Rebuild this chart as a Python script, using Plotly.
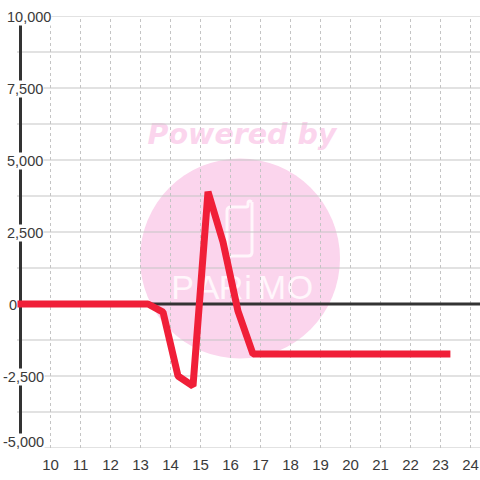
import plotly.graph_objects as go

# Data
x_vals = [8.75, 9.25, 9.75, 10.25, 10.75, 11.25, 11.75, 12.25, 12.75, 13.25, 13.75, 14.25, 14.75,
          15.25, 15.75, 16.25, 16.75, 17.25, 17.75, 18.25, 18.75, 19.25, 19.75, 20.25, 20.75,
          21.25, 21.75, 22.25, 22.75, 23.33]
y_vals = [0, 0, 0, 0, 0, 0, 0, 0, 0, 0, -280, -2500, -2850,
          3900, 2150, -250, -1740, -1740, -1740, -1740, -1740, -1740, -1740, -1740, -1740,
          -1740, -1740, -1740, -1740, -1740]
x_ticks = [10, 11, 12, 13, 14, 15, 16, 17, 18, 19, 20, 21, 22, 23, 24]
y_major = [10000, 7500, 5000, 2500, 0, -2500, -5000]
y_labels = ["10,000", "7,500", "5,000", "2,500", "0", "-2,500", "-5,000"]
y_grid = [10000, 8750, 7500, 6250, 5000, 3750, 2500, 1250, -1250, -2500, -3750, -5000]
logo_letters = ["P", "A", "R", "i", "M", "O"]

W = H = 480
L, R, T, B = 17, 0, 16, 32
X_MIN = 10 + (L - 50.5) / 30
X_MAX = X_MIN + (W - L - R) / 30
Y_MIN, Y_MAX = -5000, 10000


def dx(px):
    return 10 + (px - 50.5) / 30


def dy(py):
    return (304 - py) / 72 * 2500


INK = "#3a3a3a"
GRID = "#c6c6c6"
PINK = "#fbd5ed"
RED = "#f01f38"

fig = go.Figure()

# Watermark text (under the grid)
fig.add_trace(go.Scatter(
    x=[dx(242)], y=[dy(136.5)], mode="text", text=["Powered by"], hoverinfo="skip",
    textposition="middle center", cliponaxis=False,
    textfont=dict(family="DejaVu Sans", size=28.5, color=PINK, weight="bold", style="italic"),
))
logo_px = [182.5, 208, 231, 248, 272, 300]
fig.add_trace(go.Scatter(
    x=[dx(p) for p in logo_px], y=[dy(290)] * 6, mode="text", text=logo_letters, hoverinfo="skip",
    textposition="middle center",
    textfont=dict(family="Liberation Sans Narrow, Liberation Sans", size=34, color="#fff6fb"),
))

# Grid
gx, gy = [], []
for v in y_grid:
    gx += [X_MIN, X_MAX, None]
    gy += [v, v, None]
fig.add_trace(go.Scatter(x=gx, y=gy, mode="lines", hoverinfo="skip", cliponaxis=False,
                         line=dict(color=GRID, width=1.2)))
vx, vy = [], []
for t in x_ticks:
    vx += [t, t, None]
    vy += [Y_MIN, Y_MAX, None]
fig.add_trace(go.Scatter(x=vx, y=vy, mode="lines", hoverinfo="skip",
                         line=dict(color="#c4c4c4", width=1, dash="3px,3px")))

# Axis lines
fig.add_trace(go.Scatter(x=[X_MIN + 0.05, X_MAX], y=[0, 0], mode="lines", hoverinfo="skip",
                         line=dict(color="#333333", width=3)))
fig.add_trace(go.Scatter(x=[9, 9], y=[Y_MIN, Y_MAX], mode="lines", hoverinfo="skip",
                         line=dict(color="#333333", width=3)))

# Series
fig.add_trace(go.Scatter(x=x_vals, y=y_vals, mode="lines", hoverinfo="skip",
                         line=dict(color=RED, width=7)))

annotations = []
for v, s in zip(y_major, y_labels):
    left_px = 2 if s.startswith("-") else (8 if s == "0" else 6)
    annotations.append(dict(
        x=(left_px - L) / (W - L - R), y=v, xref="paper", yref="y", text=s, showarrow=False,
        xanchor="left", yanchor="middle", bgcolor="#ffffff", borderpad=0,
        yshift=6 if v == Y_MIN else -1,
        font=dict(family="Liberation Sans", size=14.5, color=INK),
    ))

logo_path = "M {} {} L {} {} Q {} {} {} {} L {} {} Q {} {} {} {} L {} {} Q {} {} {} {} L {} {} Q {} {} {} {} L {} {} Q {} {} {} {} L {} {}".format(
    *[c for p in [(252, 202), (252, 252), (252, 256), (248, 256), (231, 256), (227, 256), (227, 252),
                  (227, 211), (227, 207), (231, 207), (246, 207), (248, 207), (248, 205),
                  (248, 203), (248, 201), (250, 201), (252, 202)]
      for c in (dx(p[0]), dy(p[1]))])

fig.update_layout(
    width=W, height=H, margin=dict(l=L, r=R, t=T, b=B, pad=0),
    paper_bgcolor="#ffffff", plot_bgcolor="rgba(0,0,0,0)", showlegend=False,
    font=dict(family="Liberation Sans", size=15, color=INK),
    xaxis=dict(range=[X_MIN, X_MAX], tickvals=x_ticks, showgrid=False, zeroline=False,
               showline=False, ticks="outside", ticklen=3, tickcolor="rgba(0,0,0,0)",
               tickfont=dict(family="Liberation Sans", size=15, color=INK)),
    yaxis=dict(range=[Y_MIN, Y_MAX], showgrid=False, zeroline=False, showline=False,
               showticklabels=False, ticks=""),
    shapes=[
        dict(type="circle", xref="x", yref="y", layer="below", x0=dx(140), x1=dx(340),
             y0=dy(358.5), y1=dy(158.5), fillcolor=PINK, line_width=0),
        dict(type="path", xref="x", yref="y", layer="below", path=logo_path,
             line=dict(color="#fff6fb", width=3)),
    ],
    annotations=annotations,
)

fig.write_html(
    "out.html",
    config={"displayModeBar": False},
    post_script="document.querySelectorAll('.js-line').forEach(function(p){p.style.strokeLinejoin='bevel';});"
                "document.body.style.margin='0';",
)
